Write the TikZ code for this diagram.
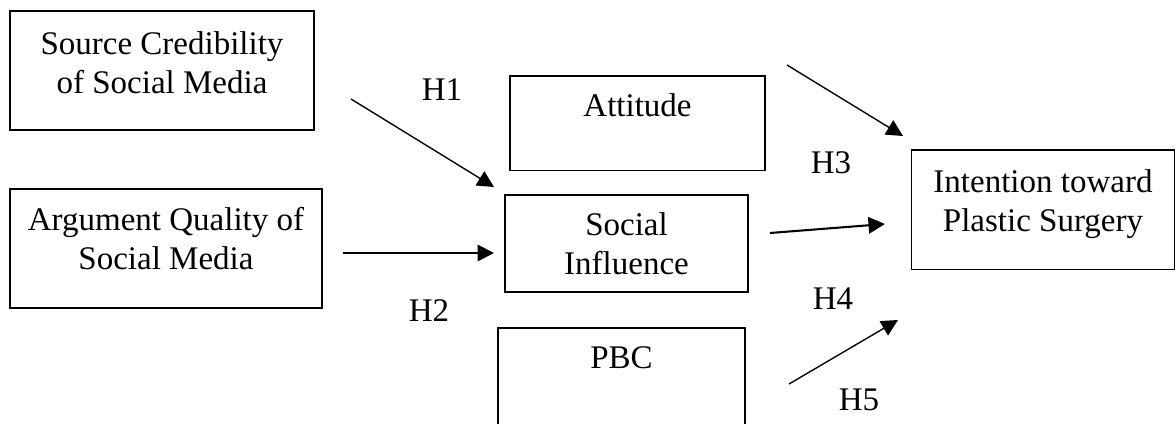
\documentclass[tikz,border=0pt]{standalone}
\usepackage{fontspec}
\setmainfont{Liberation Serif}
\usetikzlibrary{arrows.meta}
\tikzset{%
  var/.style = {rectangle,draw,line width=0.55pt,align=center,
        inner sep=0pt,anchor=north},
  hyp/.style = {-{Triangle[length=6pt,width=6pt]},line width=0.5pt},
  thickhyp/.style = {hyp,line width=0.75pt},
  lbl/.style = {inner sep=0pt}
}

\begin{document}
\begin{tikzpicture}[x=0.3636pt,y=-0.3636pt,
        every node/.style={font=\fontsize{12}{14.2}\selectfont}]
    \clip (0,0) rectangle (1176,424);
    % constructs
    \node[var,minimum width=110.5pt,text height=30.2pt,text depth=13.1pt]
        (src) at (162,10) {Source Credibility\\of Social Media};
    \node[var,minimum width=113.4pt,text height=29.5pt,text depth=13.8pt]
        (arg) at (166,188) {Argument Quality of\\Social Media};
    \node[var,minimum width=92.7pt,text height=14.9pt,text depth=19.6pt]
        (att) at (637.5,75) {Attitude};
    \node[var,minimum width=88.4pt,text height=29.1pt,text depth=6.2pt]
        (soc) at (626.5,194) {Social\\Influence};
    \node[var,minimum width=89.8pt,text height=14.9pt,text depth=25.5pt]
        (pbc) at (621.5,327) {PBC};
    \node[var,minimum width=95.6pt,text height=29.8pt,text depth=13.8pt]
        (int) at (1043,149) {Intention toward\\Plastic Surgery};
    % arrow ends
    \coordinate (h1s) at (351,99);  \coordinate (h1e) at (494,187);
    \coordinate (h2s) at (343,253); \coordinate (h2e) at (494,253);
    \coordinate (h3s) at (787,65);  \coordinate (h3e) at (903,136);
    \coordinate (h4s) at (770,233); \coordinate (h4e) at (885,224);
    \coordinate (h5s) at (789,384); \coordinate (h5e) at (898,320);
    \draw[hyp] (h1s) -- (h1e);
    \draw[thickhyp] (h2s) -- (h2e);
    \draw[hyp] (h3s) -- (h3e);
    \draw[thickhyp] (h4s) -- (h4e);
    \draw[hyp] (h5s) -- (h5e);
    % hypotheses
    \node[lbl] (l1) at (442,90) {H1};
    \node[lbl] (l2) at (429,311) {H2};
    \node[lbl] (l3) at (831,163) {H3};
    \node[lbl] (l4) at (833,299) {H4};
    \node[lbl] (l5) at (859,400) {H5};
\end{tikzpicture}
\end{document}
